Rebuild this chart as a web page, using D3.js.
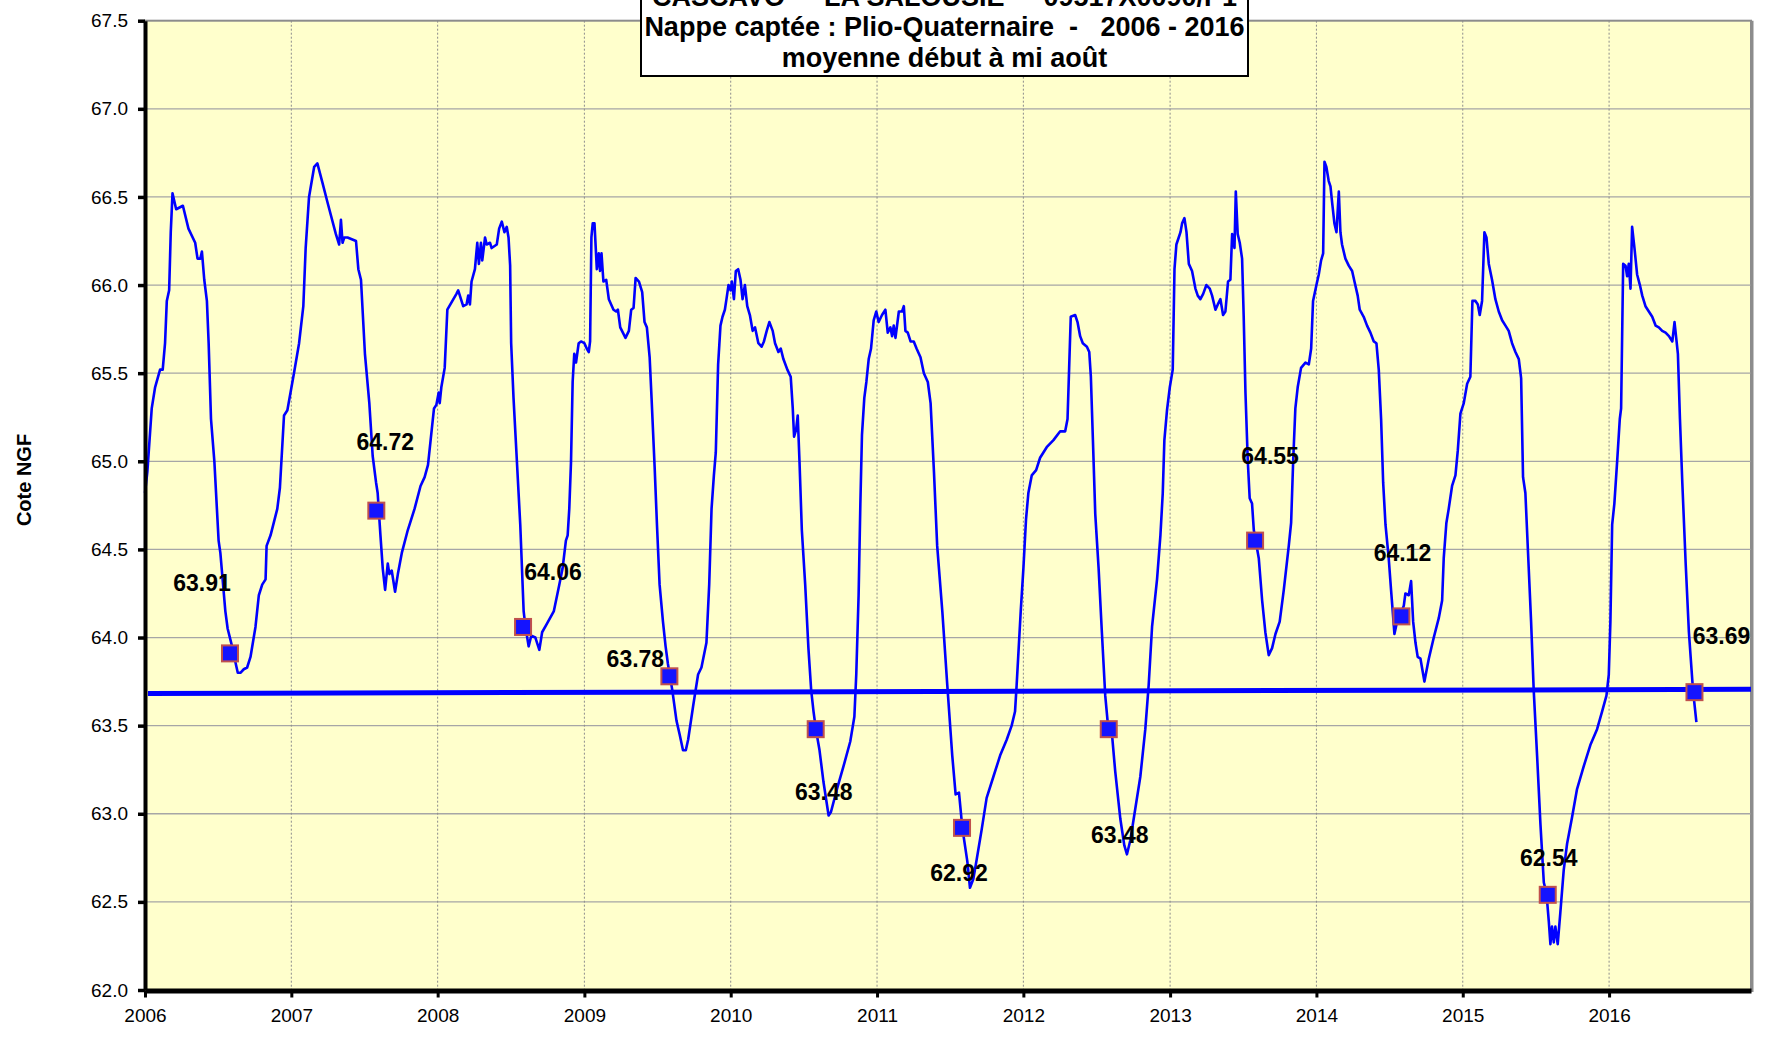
<!DOCTYPE html>
<html>
<head>
<meta charset="utf-8">
<script src="https://cdn.jsdelivr.net/npm/d3@7"></script>
<style>
  body { margin: 0; background: #ffffff; }
  text { font-family: "Liberation Sans", Arial, sans-serif; }
</style>
</head>
<body>
<div id="graphe"></div>
<script>
// ---- Données ----

// titre (trois lignes, la première est coupée en haut)
var titre = [
  "CASCAVO  -  LA SALOUSIE  -  09517X0090/P1",
  "Nappe captée : Plio-Quaternaire  -   2006 - 2016",
  "moyenne début à mi août"
];

// niveau journalier de la nappe : [année décimale, cote NGF]
var niveau = [
  // 2006
  [2006.000,64.82],[2006.016,64.94],[2006.046,65.30],[2006.069,65.42],[2006.103,65.52],[2006.121,65.52],[2006.137,65.67],[2006.149,65.91],[2006.165,65.97],[2006.176,66.30],[2006.188,66.52],[2006.213,66.43],[2006.259,66.45],[2006.297,66.32],[2006.343,66.24],[2006.359,66.15],[2006.378,66.15],[2006.389,66.19],[2006.405,66.03],[2006.423,65.91],[2006.435,65.67],[2006.451,65.24],[2006.474,65.00],[2006.503,64.55],[2006.515,64.48],[2006.549,64.15],[2006.565,64.05],[2006.595,63.95],[2006.618,63.86],[2006.634,63.80],[2006.652,63.80],[2006.675,63.82],[2006.698,63.83],[2006.721,63.89],[2006.755,64.06],[2006.778,64.24],[2006.801,64.30],[2006.824,64.33],[2006.831,64.52],[2006.858,64.58],[2006.904,64.73],[2006.922,64.85],[2006.950,65.26],[2006.973,65.29],
  // 2007
  [2007.018,65.50],[2007.053,65.67],[2007.082,65.88],[2007.098,66.21],[2007.121,66.50],[2007.156,66.67],[2007.178,66.69],[2007.213,66.58],[2007.247,66.47],[2007.304,66.29],[2007.327,66.23],[2007.339,66.37],[2007.350,66.24],[2007.362,66.27],[2007.384,66.27],[2007.442,66.25],[2007.458,66.09],[2007.476,66.03],[2007.503,65.61],[2007.533,65.33],[2007.556,65.03],[2007.579,64.88],[2007.590,64.82],[2007.609,64.58],[2007.625,64.39],[2007.641,64.27],[2007.659,64.42],[2007.670,64.36],[2007.686,64.38],[2007.709,64.26],[2007.728,64.36],[2007.755,64.48],[2007.796,64.61],[2007.842,64.73],[2007.883,64.86],[2007.911,64.91],[2007.934,64.98],[2007.952,65.12],[2007.975,65.30],[2007.991,65.32],
  // 2008
  [2008.007,65.39],[2008.014,65.33],[2008.025,65.42],[2008.048,65.53],[2008.066,65.86],[2008.128,65.95],[2008.140,65.97],[2008.174,65.88],[2008.197,65.89],[2008.208,65.94],[2008.220,65.89],[2008.231,66.02],[2008.254,66.09],[2008.270,66.24],[2008.281,66.12],[2008.295,66.24],[2008.304,66.14],[2008.323,66.27],[2008.334,66.23],[2008.357,66.24],[2008.368,66.21],[2008.403,66.23],[2008.419,66.32],[2008.437,66.36],[2008.455,66.30],[2008.471,66.33],[2008.483,66.27],[2008.494,66.11],[2008.501,65.67],[2008.517,65.36],[2008.540,65.00],[2008.563,64.64],[2008.586,64.15],[2008.597,64.07],[2008.620,63.95],[2008.638,64.01],[2008.666,64.00],[2008.693,63.93],[2008.712,64.03],[2008.746,64.08],[2008.792,64.15],[2008.829,64.30],[2008.851,64.39],[2008.874,64.55],[2008.886,64.58],[2008.897,64.73],[2008.909,65.00],[2008.920,65.45],[2008.931,65.61],[2008.943,65.56],[2008.961,65.67],[2008.977,65.68],
  // 2009
  [2009.000,65.67],[2009.016,65.64],[2009.030,65.62],[2009.039,65.68],[2009.048,66.27],[2009.057,66.35],[2009.069,66.35],[2009.085,66.09],[2009.098,66.18],[2009.107,66.08],[2009.117,66.18],[2009.130,66.02],[2009.149,66.03],[2009.167,65.92],[2009.199,65.86],[2009.217,65.85],[2009.229,65.86],[2009.245,65.76],[2009.263,65.73],[2009.281,65.70],[2009.304,65.74],[2009.320,65.86],[2009.336,65.87],[2009.350,66.04],[2009.373,66.02],[2009.395,65.96],[2009.411,65.79],[2009.427,65.76],[2009.446,65.59],[2009.459,65.36],[2009.480,64.97],[2009.496,64.64],[2009.514,64.30],[2009.537,64.09],[2009.555,63.95],[2009.571,63.85],[2009.601,63.70],[2009.629,63.53],[2009.651,63.45],[2009.674,63.36],[2009.693,63.36],[2009.709,63.42],[2009.743,63.61],[2009.777,63.79],[2009.800,63.83],[2009.834,63.97],[2009.853,64.30],[2009.869,64.73],[2009.885,64.92],[2009.898,65.05],[2009.914,65.55],[2009.930,65.77],[2009.944,65.82],[2009.960,65.86],[2009.971,65.92],[2009.985,66.00],[2009.999,65.97],
  // 2010
  [2010.008,66.02],[2010.022,65.92],[2010.035,66.08],[2010.051,66.09],[2010.067,66.03],[2010.081,65.92],[2010.097,66.00],[2010.113,65.88],[2010.131,65.83],[2010.150,65.74],[2010.166,65.76],[2010.189,65.67],[2010.211,65.65],[2010.227,65.68],[2010.246,65.74],[2010.264,65.79],[2010.287,65.74],[2010.303,65.67],[2010.326,65.62],[2010.342,65.64],[2010.360,65.58],[2010.387,65.52],[2010.410,65.48],[2010.424,65.30],[2010.433,65.14],[2010.447,65.18],[2010.458,65.26],[2010.470,65.00],[2010.486,64.61],[2010.509,64.30],[2010.531,63.94],[2010.550,63.70],[2010.566,63.58],[2010.582,63.48],[2010.607,63.36],[2010.634,63.18],[2010.669,62.99],[2010.685,63.01],[2010.726,63.14],[2010.771,63.27],[2010.817,63.41],[2010.845,63.55],[2010.858,63.79],[2010.874,64.24],[2010.886,64.76],[2010.897,65.15],[2010.913,65.36],[2010.927,65.45],[2010.943,65.58],[2010.959,65.64],[2010.977,65.80],[2010.995,65.85],
  // 2011
  [2011.011,65.79],[2011.034,65.83],[2011.057,65.86],[2011.073,65.73],[2011.091,65.76],[2011.103,65.71],[2011.114,65.77],[2011.126,65.70],[2011.149,65.85],[2011.171,65.85],[2011.183,65.88],[2011.194,65.74],[2011.210,65.73],[2011.229,65.68],[2011.251,65.68],[2011.270,65.64],[2011.297,65.59],[2011.320,65.50],[2011.347,65.45],[2011.366,65.33],[2011.389,64.94],[2011.411,64.52],[2011.446,64.15],[2011.480,63.73],[2011.514,63.33],[2011.537,63.11],[2011.560,63.12],[2011.583,62.92],[2011.617,62.73],[2011.635,62.58],[2011.658,62.63],[2011.681,62.74],[2011.715,62.91],[2011.749,63.09],[2011.795,63.21],[2011.841,63.33],[2011.886,63.42],[2011.920,63.50],[2011.943,63.58],[2011.954,63.73],[2011.966,63.91],[2011.982,64.15],
  // 2012
  [2012.000,64.39],[2012.018,64.67],[2012.034,64.82],[2012.057,64.92],[2012.087,64.95],[2012.114,65.02],[2012.159,65.08],[2012.205,65.12],[2012.251,65.17],[2012.285,65.17],[2012.301,65.24],[2012.312,65.53],[2012.323,65.82],[2012.353,65.83],[2012.369,65.79],[2012.387,65.71],[2012.405,65.67],[2012.433,65.65],[2012.449,65.62],[2012.460,65.48],[2012.474,65.12],[2012.490,64.70],[2012.513,64.39],[2012.535,64.03],[2012.558,63.67],[2012.579,63.48],[2012.604,63.45],[2012.626,63.24],[2012.661,62.97],[2012.688,62.82],[2012.706,62.77],[2012.729,62.85],[2012.763,63.03],[2012.797,63.21],[2012.831,63.48],[2012.854,63.73],[2012.877,64.06],[2012.911,64.33],[2012.934,64.58],[2012.950,64.82],[2012.961,65.12],[2012.979,65.29],[2012.998,65.42],
  // 2013
  [2013.018,65.52],[2013.030,66.09],[2013.043,66.23],[2013.059,66.27],[2013.071,66.30],[2013.082,66.35],[2013.098,66.38],[2013.112,66.30],[2013.128,66.12],[2013.150,66.08],[2013.173,65.98],[2013.189,65.94],[2013.207,65.92],[2013.226,65.95],[2013.248,66.00],[2013.271,65.98],[2013.287,65.94],[2013.310,65.86],[2013.326,65.89],[2013.344,65.92],[2013.362,65.83],[2013.378,65.85],[2013.396,66.02],[2013.412,66.03],[2013.424,66.29],[2013.440,66.21],[2013.449,66.53],[2013.462,66.29],[2013.476,66.24],[2013.492,66.15],[2013.503,65.82],[2013.515,65.39],[2013.531,65.00],[2013.544,64.79],[2013.560,64.76],[2013.572,64.61],[2013.606,64.45],[2013.629,64.21],[2013.651,64.03],[2013.674,63.90],[2013.697,63.94],[2013.720,64.02],[2013.749,64.09],[2013.777,64.27],[2013.811,64.52],[2013.827,64.65],[2013.841,65.00],[2013.856,65.30],[2013.872,65.42],[2013.895,65.53],[2013.925,65.56],[2013.948,65.55],[2013.964,65.64],[2013.977,65.91],
  // 2014
  [2014.000,66.00],[2014.016,66.06],[2014.032,66.14],[2014.046,66.18],[2014.055,66.70],[2014.068,66.67],[2014.084,66.59],[2014.096,66.56],[2014.107,66.47],[2014.123,66.35],[2014.137,66.30],[2014.153,66.53],[2014.164,66.30],[2014.175,66.23],[2014.198,66.15],[2014.221,66.11],[2014.244,66.08],[2014.260,66.02],[2014.282,65.94],[2014.296,65.86],[2014.323,65.82],[2014.346,65.77],[2014.369,65.73],[2014.392,65.68],[2014.410,65.67],[2014.426,65.52],[2014.442,65.24],[2014.456,64.88],[2014.472,64.64],[2014.494,64.45],[2014.510,64.27],[2014.524,64.12],[2014.533,64.02],[2014.551,64.09],[2014.574,64.13],[2014.597,64.18],[2014.608,64.25],[2014.631,64.24],[2014.647,64.32],[2014.661,64.09],[2014.677,63.97],[2014.692,63.89],[2014.711,63.88],[2014.738,63.75],[2014.768,63.88],[2014.802,64.00],[2014.836,64.11],[2014.859,64.21],[2014.870,64.45],[2014.888,64.65],[2014.904,64.73],[2014.927,64.86],[2014.950,64.92],[2014.966,65.06],[2014.984,65.27],
  // 2015
  [2015.007,65.33],[2015.030,65.44],[2015.052,65.48],[2015.066,65.91],[2015.087,65.91],[2015.103,65.89],[2015.116,65.83],[2015.132,65.91],[2015.148,66.30],[2015.162,66.27],[2015.178,66.12],[2015.200,66.03],[2015.223,65.92],[2015.246,65.85],[2015.269,65.80],[2015.292,65.77],[2015.314,65.74],[2015.337,65.67],[2015.360,65.62],[2015.383,65.58],[2015.399,65.47],[2015.412,64.91],[2015.428,64.82],[2015.451,64.39],[2015.467,64.09],[2015.485,63.70],[2015.508,63.33],[2015.531,62.94],[2015.554,62.61],[2015.572,62.55],[2015.588,62.39],[2015.599,62.26],[2015.610,62.36],[2015.622,62.27],[2015.633,62.36],[2015.649,62.26],[2015.667,62.44],[2015.690,62.68],[2015.713,62.83],[2015.747,62.98],[2015.781,63.14],[2015.827,63.27],[2015.872,63.39],[2015.918,63.48],[2015.952,63.58],[2015.982,63.67],[2015.998,63.79],
  // 2016
  [2016.009,64.09],[2016.021,64.64],[2016.036,64.76],[2016.055,65.00],[2016.073,65.24],[2016.082,65.30],[2016.096,66.12],[2016.112,66.11],[2016.123,66.05],[2016.134,66.12],[2016.146,65.98],[2016.157,66.33],[2016.173,66.21],[2016.191,66.06],[2016.210,66.00],[2016.226,65.94],[2016.248,65.88],[2016.271,65.85],[2016.294,65.82],[2016.317,65.77],[2016.339,65.76],[2016.362,65.74],[2016.385,65.73],[2016.408,65.71],[2016.431,65.68],[2016.446,65.79],[2016.460,65.68],[2016.469,65.61],[2016.483,65.24],[2016.499,64.88],[2016.522,64.42],[2016.544,64.03],[2016.572,63.70],[2016.595,63.52]
];

// moyenne début à mi-août de chaque année
var datesMoyenne = ["2006-08-01","2007-08-01","2008-08-01","2009-08-01","2010-08-01","2011-08-01",
                    "2012-08-01","2013-08-01","2014-08-01","2015-08-01","2016-08-01"];
var valeursMoyenne = [63.91, 64.72, 64.06, 63.78, 63.48, 62.92, 63.48, 64.55, 64.12, 62.54, 63.69];

// courbe de tendance des moyennes (début et fin de l'axe)
var datesTendance = ["2006-01-01", "2016-12-20"];
var valeursTendance = [63.682, 63.706];

// graduations
var anneesAxe = ["2006","2007","2008","2009","2010","2011","2012","2013","2014","2015","2016"];
var cotesAxe = [62.0, 62.5, 63.0, 63.5, 64.0, 64.5, 65.0, 65.5, 66.0, 66.5, 67.0, 67.5];
var limitesX = ["2006-01-01", "2016-12-20"];
var limitesY = [62.0, 67.5];

// décalage (px) des étiquettes par rapport au marqueur, placées à la main dans Excel
var decalagesEtiquettes = [[-28,-70],[9,-69],[30,-55],[-34,-17],[8,63],[-3,45],[11,106],[15,-85],[1,-63],[1,-37],[27,-56]];

// ---- Mise en place ----
var W = 1767, H = 1037;
var gauche = 145, droite = 1751, haut = 20.7, bas = 990;

var lireDate = d3.utcParse("%Y-%m-%d");
var lireAnnee = d3.utcParse("%Y");

// conversion année décimale -> date
function anneeVersDate(t) {
  var an = Math.floor(t);
  var debut = Date.UTC(an, 0, 1), fin = Date.UTC(an + 1, 0, 1);
  return new Date(debut + (t - an) * (fin - debut));
}

var x = d3.scaleUtc().domain(limitesX.map(lireDate)).range([gauche, droite]);
var y = d3.scaleLinear().domain(limitesY).range([bas, haut]);

var svg = d3.select("#graphe").append("svg")
  .attr("width", W).attr("height", H);

// fond de la zone de traçage
svg.append("rect")
  .attr("x", gauche).attr("y", haut)
  .attr("width", droite - gauche).attr("height", bas - haut)
  .attr("fill", "#ffffcc")
  .attr("stroke", "#8c8c8c").attr("stroke-width", 2);

// quadrillage horizontal
svg.append("g").selectAll("line")
  .data(cotesAxe.filter(function(c){ return c > limitesY[0] && c < limitesY[1]; }))
  .enter().append("line")
  .attr("x1", gauche).attr("x2", droite)
  .attr("y1", function(d){ return y(d); }).attr("y2", function(d){ return y(d); })
  .attr("stroke", "#a6a6a6").attr("stroke-width", 1.3);

// quadrillage vertical en pointillé
svg.append("g").selectAll("line")
  .data(anneesAxe.slice(1).map(lireAnnee))
  .enter().append("line")
  .attr("x1", function(d){ return x(d); }).attr("x2", function(d){ return x(d); })
  .attr("y1", haut).attr("y2", bas)
  .attr("stroke", "#8c8c8c").attr("stroke-width", 1)
  .attr("stroke-dasharray", "2,2");

// bord droit un peu plus épais (ombre Excel)
svg.append("line")
  .attr("x1", droite + 1).attr("x2", droite + 1)
  .attr("y1", haut).attr("y2", bas + 2)
  .attr("stroke", "#8c8c8c").attr("stroke-width", 3);

// niveau journalier
var ligne = d3.line()
  .x(function(d){ return x(anneeVersDate(d[0])); })
  .y(function(d){ return y(d[1]); });

svg.append("path")
  .attr("d", ligne(niveau))
  .attr("fill", "none")
  .attr("stroke", "#0000ff")
  .attr("stroke-width", 2.6)
  .attr("stroke-linejoin", "round");

// tendance
svg.append("line")
  .attr("x1", x(lireDate(datesTendance[0])) + 3).attr("y1", y(valeursTendance[0]))
  .attr("x2", x(lireDate(datesTendance[1]))).attr("y2", y(valeursTendance[1]))
  .attr("stroke", "#0000ff").attr("stroke-width", 5);

// axes
var axeY = d3.axisLeft(y).tickValues(cotesAxe).tickFormat(d3.format(".1f"))
  .tickSize(7).tickSizeOuter(0).tickPadding(10);
var gY = svg.append("g").attr("transform", "translate(" + gauche + ",0)").call(axeY);
gY.select(".domain").attr("stroke", "#000").attr("stroke-width", 4);
gY.selectAll(".tick line").attr("stroke", "#000").attr("stroke-width", 3.5);
gY.selectAll(".tick text").attr("fill", "#000")
  .style("font-size", "19px").style("font-family", "'Liberation Sans', Arial, sans-serif");

var axeX = d3.axisBottom(x).tickValues(anneesAxe.map(lireAnnee)).tickFormat(d3.utcFormat("%Y"))
  .tickSize(7).tickSizeOuter(0).tickPadding(11);
var gX = svg.append("g").attr("transform", "translate(0," + (bas + 0.5) + ")").call(axeX);
gX.select(".domain").attr("stroke", "#000").attr("stroke-width", 5);
gX.selectAll(".tick line").attr("stroke", "#000").attr("stroke-width", 3);
gX.selectAll(".tick text").attr("fill", "#000")
  .style("font-size", "19px").style("font-family", "'Liberation Sans', Arial, sans-serif");

// titre de l'axe Y
svg.append("text")
  .attr("transform", "translate(31,480) rotate(-90)")
  .attr("text-anchor", "middle")
  .style("font-size", "20px").style("font-weight", "bold")
  .text("Cote NGF");

// moyennes d'août : marqueurs carrés
var moyennes = datesMoyenne.map(function(d, i){
  return { date: lireDate(d), val: valeursMoyenne[i], dec: decalagesEtiquettes[i] };
});

var cote = 16;
svg.append("g").selectAll("rect")
  .data(moyennes).enter().append("rect")
  .attr("x", function(d){ return x(d.date) - cote / 2; })
  .attr("y", function(d){ return y(d.val) - cote / 2; })
  .attr("width", cote).attr("height", cote)
  .attr("fill", "#1414ff")
  .attr("stroke", "#c0504d").attr("stroke-width", 2);

// étiquettes de valeur
svg.append("g").selectAll("text")
  .data(moyennes).enter().append("text")
  .attr("x", function(d){ return x(d.date) + d.dec[0]; })
  .attr("y", function(d){ return y(d.val) + d.dec[1]; })
  .attr("dy", "0.35em")
  .attr("text-anchor", "middle")
  .style("font-size", "23px").style("font-weight", "bold")
  .text(function(d){ return d.val.toFixed(2); });

// cadre du titre
svg.append("rect")
  .attr("x", 641).attr("y", -10).attr("width", 607).attr("height", 86)
  .attr("fill", "#ffffff").attr("stroke", "#000").attr("stroke-width", 2);

svg.append("g").selectAll("text")
  .data(titre).enter().append("text")
  .attr("x", 944.5)
  .attr("y", function(d, i){ return 5.5 + i * 30.5; })
  .attr("text-anchor", "middle")
  .attr("xml:space", "preserve")
  .style("white-space", "pre")
  .style("font-size", "27px").style("font-weight", "bold")
  .text(function(d){ return d; });
</script>
</body>
</html>
